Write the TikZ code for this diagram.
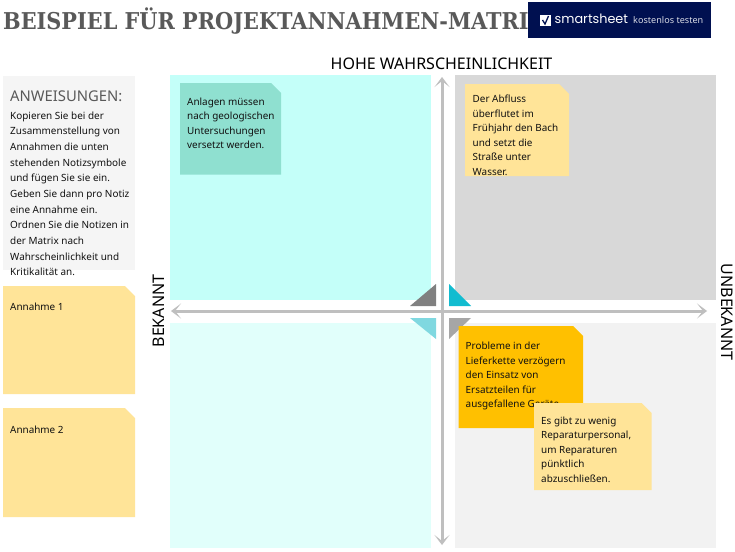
\documentclass[tikz,border=0pt]{standalone}
\usepackage{fontspec}
\setmainfont{Noto Sans}
\newfontfamily\titlefont{DejaVu Serif Condensed}
\newfontfamily\logofont{Poppins}
\usetikzlibrary{arrows.meta}
\definecolor{cTL}{HTML}{C4FFF9}
\definecolor{cTR}{HTML}{D8D8D8}
\definecolor{cBL}{HTML}{E1FFFB}
\definecolor{cBR}{HTML}{F2F2F2}
\definecolor{cTeal}{HTML}{8FE0D0}
\definecolor{cYellow}{HTML}{FFE498}
\definecolor{cOrange}{HTML}{FFC000}
\definecolor{cInstr}{HTML}{F5F5F5}
\definecolor{cAxis}{HTML}{BFBFBF}
\definecolor{cNavy}{HTML}{001050}
\definecolor{cTitle}{HTML}{595959}
\definecolor{cTxt}{HTML}{111111}
\definecolor{cTriA}{HTML}{808080}
\definecolor{cTriB}{HTML}{12BCD0}
\definecolor{cTriC}{HTML}{80D8E0}
\definecolor{cTriD}{HTML}{A6A6A6}
\tikzset{
  bodytxt/.style={anchor=north west,inner sep=0pt,align=left,text=cTxt,font=\fontsize{9.9}{14.45}\selectfont},
  instrtxt/.style={anchor=north west,inner sep=0pt,align=left,text=cTxt,font=\fontsize{9.95}{15.65}\selectfont},
  axislabel/.style={inner sep=0pt,text=black,font=\fontsize{16}{19}\selectfont},
  axisline/.style={draw=cAxis,line width=3pt,{Stealth[length=10pt,width=15pt,inset=6pt]}-{Stealth[length=10pt,width=15pt,inset=6pt]}},
}
\newcommand{\notepoly}[5]{\fill[#5] (#1,#2) -- ({#3-10},#2) -- (#3,{#2+10}) -- (#3,#4) -- (#1,#4) -- cycle;}
\begin{document}
\begin{tikzpicture}[x=1pt,y=-1pt]
\useasboundingbox (0,0) rectangle (735,551);
\fill[white] (0,0) rectangle (735,551);
% title and logo
\node[anchor=base west,inner sep=0pt,text=cTitle,font=\fontsize{23.15}{27}\selectfont\titlefont\bfseries] (title) at (3,29.5) {BEISPIEL FÜR PROJEKTANNAHMEN-MATRI};
\fill[cNavy] (528,2) rectangle (711,38);
\fill[white] (540,15) rectangle (550.5,26);
\draw[cNavy,line width=1.3pt] (542.5,20) -- (545,24) -- (548.5,16);
\node[anchor=base west,inner sep=0pt,text=white,font=\fontsize{12.8}{16}\selectfont\logofont] (logo) at (554.5,23.5) {smartsheet};
\node[anchor=base west,inner sep=0pt,text=white!85!cNavy,font=\fontsize{9.1}{10}\selectfont] (logo2) at (633,23.7) {kostenlos testen};
% quadrants
\fill[cTL] (170,75) rectangle (431,300);
\fill[cTR] (454.5,75) rectangle (716,300);
\fill[cBL] (170,322.5) rectangle (431,548);
\fill[cBR] (454.5,322.5) rectangle (716,548);
% axes
\coordinate (axL) at (171,311);
\coordinate (axR) at (707,311);
\coordinate (axT) at (442,77);
\coordinate (axB) at (442,545);
\draw[axisline] (axL) -- (axR);
\draw[axisline] (axT) -- (axB);
% triangles
\fill[cTriA] (436,284) -- (436,306) -- (410,306) -- cycle;
\fill[cTriB] (449,284) -- (449,306) -- (471,306) -- cycle;
\fill[cTriC] (410,318) -- (436,318) -- (436,339) -- cycle;
\fill[cTriD] (449,318) -- (471,318) -- (449,339) -- cycle;
% axis labels
\node[axislabel] (hoch) at (441.5,64) {HOHE WAHRSCHEINLICHKEIT};
\node[axislabel,rotate=90] (bekannt) at (158.5,311) {BEKANNT};
\node[axislabel,rotate=-90] (unbekannt) at (727,312) {UNBEKANNT};
% instructions
\fill[cInstr] (3,76) rectangle (135,270);
\node[anchor=north west,inner sep=0pt,text=cTitle,font=\fontsize{14.8}{18}\selectfont] (anw) at (10,90.5) {ANWEISUNGEN:};
\node[instrtxt] (instr) at (10,111.5) {Kopieren Sie bei der\\Zusammenstellung von\\Annahmen die unten\\stehenden Notizsymbole\\und fügen Sie sie ein.\\Geben Sie dann pro Notiz\\eine Annahme ein.\\Ordnen Sie die Notizen in\\der Matrix nach\\Wahrscheinlichkeit und\\Kritikalität an.};
% left notes
\notepoly{3}{286}{135}{394}{cYellow}
\node[bodytxt] (a1) at (10,303) {Annahme 1};
\notepoly{3}{408}{135}{517}{cYellow}
\node[bodytxt] (a2) at (10,425.5) {Annahme 2};
% matrix notes
\notepoly{180}{83}{281}{174.5}{cTeal}
\node[bodytxt] (n1) at (187,97.5) {Anlagen müssen\\nach geologischen\\Untersuchungen\\versetzt werden.};
\notepoly{465}{84}{569}{176}{cYellow}
\begin{scope}
\clip (465,84) rectangle (569,176);
\node[bodytxt] (n2) at (472.5,95) {Der Abfluss\\überflutet im\\Frühjahr den Bach\\und setzt die\\Straße unter\\Wasser.};
\end{scope}
\notepoly{458.5}{326}{583}{428}{cOrange}
\node[bodytxt] (n3) at (465.5,342) {Probleme in der\\Lieferkette verzögern\\den Einsatz von\\Ersatzteilen für\\ausgefallene Geräte.};
\notepoly{534}{403}{651.5}{490}{cYellow}
\node[bodytxt] (n4) at (541,416.5) {Es gibt zu wenig\\Reparaturpersonal,\\um Reparaturen\\pünktlich\\abzuschließen.};
\end{tikzpicture}
\end{document}
